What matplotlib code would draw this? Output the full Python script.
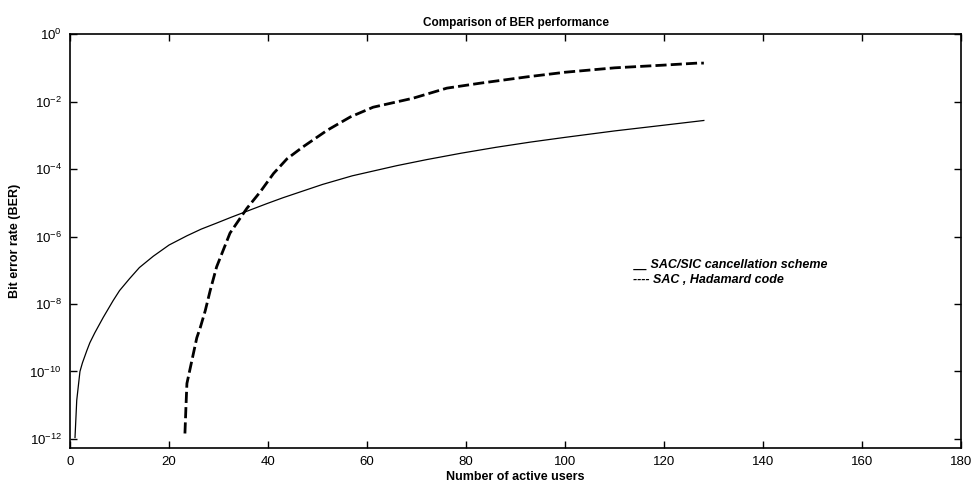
import numpy as np
import matplotlib
matplotlib.use('Agg')
import matplotlib.pyplot as plt
from matplotlib.ticker import FixedLocator, LogFormatterMathtext

plt.rcParams['font.family'] = ['Liberation Sans', 'DejaVu Sans']
plt.rcParams['mathtext.fontset'] = 'custom'
plt.rcParams['mathtext.rm'] = 'Liberation Sans'

# SAC/SIC cancellation scheme (solid)
users_sic = [1, 1.35, 2, 2.5, 3.4, 4, 5, 6.7, 8.7, 10, 12, 14, 16.8, 20, 23.6,
             26.5, 29.6, 32.5, 35.7, 39.8, 43, 46.5, 51, 57, 66, 72, 79, 86,
             93, 100, 110, 120, 128]
ber_sic = [1.1e-12, 1.4e-11, 1e-10, 1.8e-10, 4.2e-10, 7.1e-10, 1.4e-9, 4e-9,
           1.26e-8, 2.5e-8, 5.6e-8, 1.2e-7, 2.6e-7, 5.6e-7, 1.05e-6, 1.66e-6,
           2.5e-6, 3.7e-6, 5.6e-6, 9.5e-6, 1.41e-5, 2.1e-5, 3.5e-5, 6.3e-5,
           1.26e-4, 1.9e-4, 2.95e-4, 4.4e-4, 6.3e-4, 8.7e-4, 1.35e-3, 2e-3,
           2.75e-3]

# SAC, Hadamard code (dashed)
users_had = [23.2, 23.4, 23.6, 24.6, 25.6, 26.3, 27.3, 28.3, 29.6, 32.3, 35.7,
             38.4, 41.1, 43.8, 47, 51.9, 56.6, 61.2, 69.3, 76.1, 82.8, 92.3,
             100, 110, 119.8, 126.7, 128]
ber_had = [1.45e-12, 8.5e-12, 4.4e-11, 2.1e-10, 1.0e-9, 2e-9, 6.3e-9, 2.5e-8,
           1.26e-7, 1.26e-6, 6.8e-6, 2.1e-5, 7.4e-5, 2e-4, 4.5e-4, 1.4e-3,
           3.5e-3, 6.8e-3, 1.26e-2, 2.5e-2, 3.5e-2, 5.4e-2, 7.4e-2, 0.1, 0.12,
           0.138, 0.138]

xticks = [0, 20, 40, 60, 80, 100, 120, 140, 160, 180]
yticks = [1e-12, 1e-10, 1e-8, 1e-6, 1e-4, 1e-2, 1e0]

fig = plt.figure(figsize=(9.73, 4.87), dpi=100)
ax = fig.add_axes([0.072, 0.080, 0.916, 0.850])

ax.semilogy(users_sic, ber_sic, color='black', lw=0.9)
ax.semilogy(users_had, ber_had, color='black', lw=2.0, linestyle=(0, (4, 1.5)))

ax.set_xlim(0, 180)
ax.set_ylim(10 ** -12.27, 1)
ax.xaxis.set_major_locator(FixedLocator(xticks))
ax.yaxis.set_major_locator(FixedLocator(yticks))
ax.yaxis.set_major_formatter(LogFormatterMathtext())
ax.yaxis.set_minor_locator(FixedLocator([]))
ax.tick_params(direction='in', top=True, right=True, length=5, width=1,
               labelsize=9.5, pad=6)
for s in ax.spines.values():
    s.set_linewidth(1.2)

ax.set_title('Comparison of BER performance', fontsize=8.5, fontweight='bold', pad=6)
ax.set_xlabel('Number of active users', fontsize=9, fontweight='bold', labelpad=2)
ax.set_ylabel('Bit error rate (BER)', fontsize=9, fontweight='bold', labelpad=6)

ax.text(0.632, 0.442, '__ SAC/SIC cancellation scheme', transform=ax.transAxes,
        fontsize=9, fontweight='bold', fontstyle='italic', va='center')
ax.text(0.632, 0.406, '---- SAC , Hadamard code', transform=ax.transAxes,
        fontsize=9, fontweight='bold', fontstyle='italic', va='center')

fig.savefig('out.png', dpi=100)
